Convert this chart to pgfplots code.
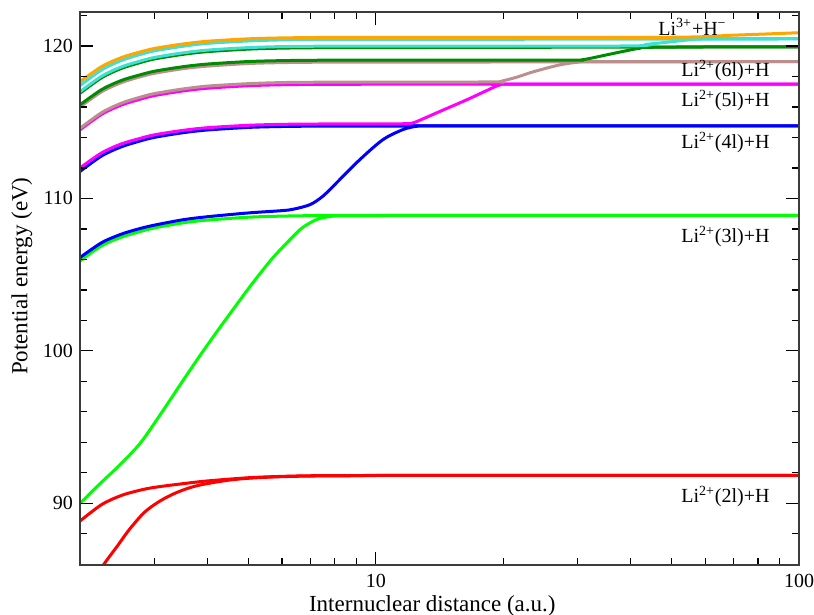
\documentclass[border=0pt]{standalone}
\usepackage{fontspec}
\setmainfont{Liberation Serif}
\usepackage{pgfplots}
\pgfplotsset{compat=1.18}

\definecolor{gred}{RGB}{255,0,0}
\definecolor{ggreenlt}{RGB}{0,255,0}
\definecolor{gblue}{RGB}{0,0,255}
\definecolor{gmagenta}{RGB}{255,0,255}
\definecolor{gbrown}{RGB}{188,143,143}
\definecolor{gturq}{RGB}{64,224,208}
\definecolor{gorange}{RGB}{255,165,0}
\definecolor{ggreen}{RGB}{0,139,0}
\definecolor{axisgray}{RGB}{60,60,60}

\begin{document}
\begin{tikzpicture}
\begin{axis}[
  at={(0,0)}, anchor=south west,
  scale only axis, width=359.5pt, height=276.7pt,
  xmode=log, xmin=2, xmax=100,
  ymin=85.95, ymax=122.25,
  xtick={10,100}, xticklabels={10,100},
  minor xtick={2,3,4,5,6,7,8,9,20,30,40,50,60,70,80,90},
  ytick={90,100,110,120},
  minor ytick={86,88,...,122},
  tick align=inside,
  major tick length=6.5pt, minor tick length=3.5pt,
  every tick/.style={black, line width=0.6pt},
  axis line style={axisgray, line width=1pt},
  axis on top,
  /pgf/number format/assume math mode=true,
  tick label style={font=\fontsize{10}{12}\selectfont},
  xticklabel style={yshift=-1pt},
  xlabel={Internuclear distance (a.u.)},
  ylabel={Potential energy (eV)},
  label style={font=\fontsize{11.5}{13}\selectfont},
  xlabel style={at={(axis description cs:0.49,-0.083)}, anchor=base},
  ylabel style={at={(axis description cs:-0.081,0.522)}, anchor=center, rotate=0},
  every axis plot/.append style={line width=1.5pt, smooth, no markers},
]
% Li2+(2l)+H channel
\addplot[gred] table {
2 88.84
2.25 89.92
2.5 90.51
2.75 90.84
3 91.05
3.5 91.29
4 91.47
5 91.68
6 91.77
7 91.81
8.5 91.82
12 91.83
100 91.83
};
\addplot[gred] table {
2 83.7
2.262 85.89
2.455 87.23
2.62 88.31
2.844 89.43
3.102 90.18
3.404 90.74
3.795 91.17
4.516 91.53
5.318 91.69
6.61 91.78
8.68 91.81
12 91.83
100 91.83
};
% Li2+(3l)+H channel
\addplot[ggreenlt] table {
2 90.0
2.226 91.27
2.455 92.38
2.62 93.17
2.814 94.16
3.137 96.06
3.498 98.03
3.837 99.67
4.209 101.25
4.592 102.69
4.955 103.94
5.318 105.05
5.707 106.10
6.16 107.08
6.61 107.94
6.98 108.39
7.37 108.69
8.0 108.85
9.17 108.88
100 108.89
};
\addplot[ggreenlt] table {
2 105.9
2.25 106.9
2.5 107.45
2.75 107.8
3 108.07
3.5 108.4
4 108.58
5 108.77
6 108.84
7 108.87
8.5 108.88
100 108.89
};
% Li2+(4l)+H channel
\addplot[gblue] table {
2 106.12
2.25 107.1
2.5 107.65
2.75 108.0
3 108.25
3.5 108.6
4 108.8
5 109.05
6 109.2
6.4 109.3
7.0 109.6
7.5 110.15
8.08 111.03
9.17 112.55
10.4 113.86
11.6 114.52
12.47 114.73
13.5 114.76
100 114.76
};
\addplot[gblue] table {
2 111.77
2.25 112.79
2.5 113.38
2.75 113.74
3 114.01
3.5 114.31
4 114.49
5 114.66
6 114.72
7 114.74
8.5 114.75
100 114.76
};
% Li2+(5l)+H channel
\addplot[gmagenta] table {
2 112.0
2.25 112.99
2.5 113.57
2.75 113.91
3 114.175
3.5 114.465
4 114.64
5 114.80
6 114.86
7 114.88
8.5 114.89
11.6 114.9
12.25 114.96
13 115.25
14.15 115.7
16.37 116.46
18.26 117.07
19.6 117.44
21 117.5
100 117.5
};
\addplot[gmagenta] table {
2 114.5
2.25 115.52
2.5 116.12
2.75 116.48
3 116.75
3.5 117.05
4 117.23
5 117.395
6 117.46
7 117.48
8.5 117.49
100 117.5
};
% Li2+(6l)+H channel
\addplot[gbrown] table {
2 114.6
2.25 115.63
2.5 116.24
2.75 116.61
3 116.88
3.5 117.18
4 117.37
5 117.53
6 117.60
7 117.62
8.5 117.63
19 117.64
19.6 117.66
21.5 117.95
23.5 118.3
27.2 118.76
30.8 118.97
34 118.97
100 118.97
};
\addplot[gbrown] table {
2 116.0
2.25 117.0
2.5 117.59
2.75 117.95
3 118.21
3.5 118.51
4 118.68
5 118.85
6 118.91
7 118.93
8.5 118.94
100 118.97
};
% higher channels
\addplot[ggreen] table {
2 116.14
2.25 117.14
2.5 117.73
2.75 118.08
3 118.345
3.5 118.64
4 118.815
5 118.98
6 119.04
7 119.06
8.5 119.07
28 119.08
30.8 119.1
35 119.41
38.5 119.65
42 119.85
46 119.92
100 119.95
};
\addplot[ggreen] table {
2 116.9
2.25 117.92
2.5 118.52
2.75 118.88
3 119.15
3.5 119.45
4 119.63
5 119.795
6 119.86
7 119.88
8.5 119.89
100 119.95
};
\addplot[gturq] table {
2 117.0
2.25 118.02
2.5 118.62
2.75 118.98
3 119.25
3.5 119.55
4 119.73
5 119.895
6 119.96
7 119.98
8.5 119.99
38 120.0
44 120.12
50 120.28
57 120.44
65 120.48
100 120.48
};
\addplot[gturq] table {
2 117.4
2.25 118.43
2.5 119.04
2.75 119.41
3 119.68
3.5 119.98
4 120.17
5 120.33
6 120.40
7 120.42
8.5 120.43
100 120.46
};
% Li3+ + H- channel
\addplot[gorange] table {
2 117.66
2.25 118.65
2.5 119.23
2.75 119.58
3 119.84
3.5 120.13
4 120.31
5 120.47
6 120.53
7 120.55
8.5 120.56
48 120.57
70 120.71
100 120.87
};
% asymptote labels
\begin{scope}[every node/.style={font=\fontsize{10}{12}\selectfont, anchor=base east, inner sep=0pt}]
\node at (axis cs:67.6,120.72) {Li\textsuperscript{3+}+H\textsuperscript{−}};
\node at (axis cs:85.4,117.97) {Li\textsuperscript{2+}(6l)+H};
\node at (axis cs:85.4,116.0) {Li\textsuperscript{2+}(5l)+H};
\node at (axis cs:85.4,113.25) {Li\textsuperscript{2+}(4l)+H};
\node at (axis cs:85.4,107.1) {Li\textsuperscript{2+}(3l)+H};
\node at (axis cs:85.4,90.07) {Li\textsuperscript{2+}(2l)+H};
\end{scope}
\end{axis}
\pgfresetboundingbox
\useasboundingbox (-40pt,-24.5pt) rectangle (367pt,282.55pt);
\end{tikzpicture}
\end{document}
